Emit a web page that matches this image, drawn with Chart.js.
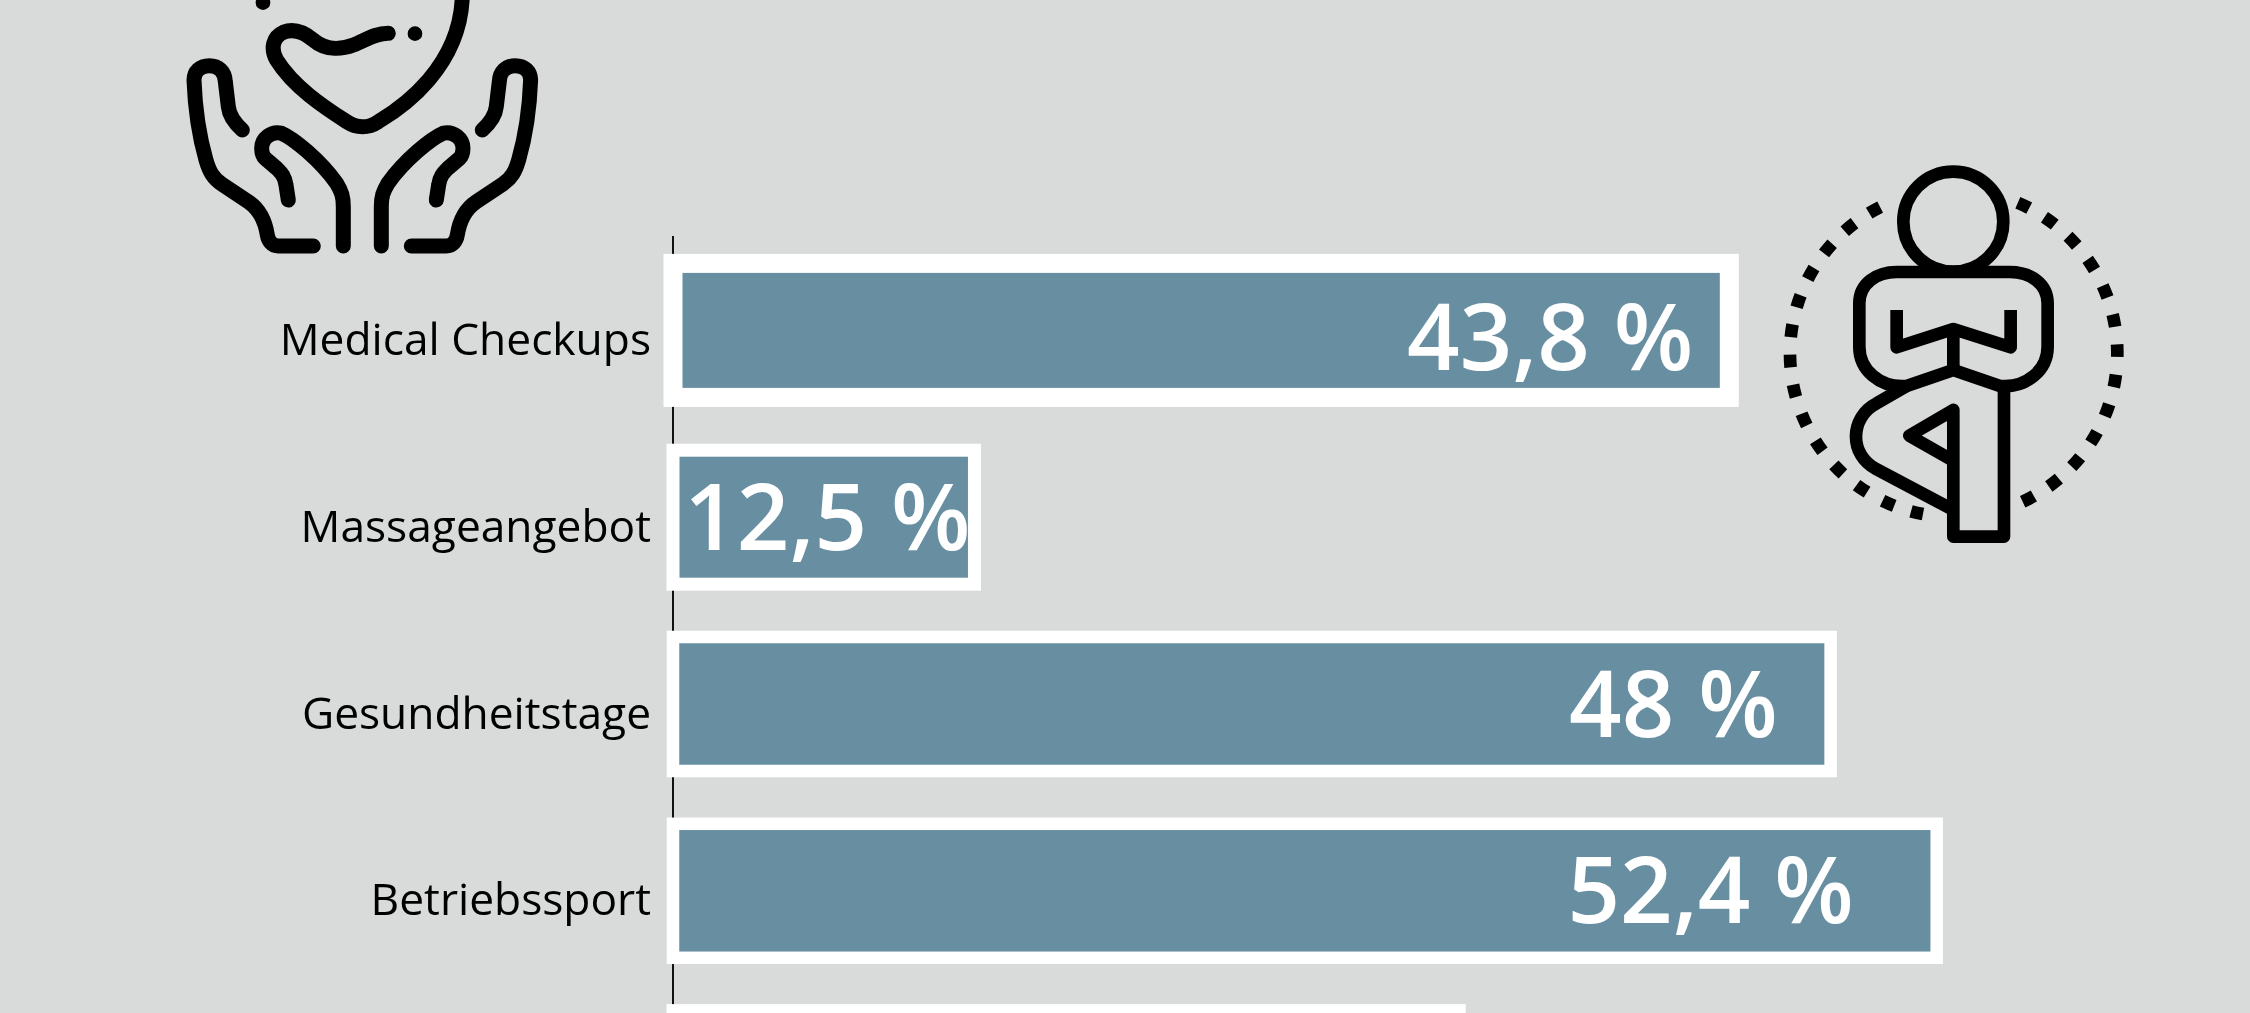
<!DOCTYPE html>
<html lang="de">
<head>
<meta charset="utf-8">
<title>Gesundheitsangebote</title>
<script src="https://cdn.jsdelivr.net/npm/chart.js@4/dist/chart.umd.min.js"></script>
<style>
    html, body { margin: 0; padding: 0; background: #d9dbda; overflow: hidden; }
    #page { position: relative; width: 2250px; height: 1013px; overflow: hidden; background: #d9dbda; }
    #chart { position: absolute; left: 0; top: 0; }
    #icons { position: absolute; left: 0; top: 0; pointer-events: none; }
</style>
</head>
<body>
<div id="page">
    <canvas id="chart" width="2250" height="1217"></canvas>
    <svg id="icons" width="2250" height="1013" viewBox="0 0 2250 1013" fill="none" stroke="#000">
        <!-- hands and heart, drawn in zoom coordinates (3x) -->
        <g transform="translate(150,0) scale(0.3333)" stroke-width="45" stroke-linecap="round" stroke-linejoin="round">
            <g id="hand">
                <path d="M490 738 H385 C365 738 355 722 352 705 C345 660 325 625 295 605 L215 552 C190 535 178 515 168 480 C145 400 135 320 132 240 C132 215 150 197 178 197 C205 197 225 215 226 245 L235 320 C238 350 255 370 277 390"/>
                <path d="M415 600 L408 555 C405 530 395 520 380 505 L345 475 C335 465 335 450 335 445 C335 415 365 392 395 400 C430 415 510 480 560 550 C575 575 580 590 580 620 V738"/>
            </g>
            <use href="#hand" transform="translate(1274,0) scale(-1,1)"/>
            <path d="M715 100 C670 100 640 125 610 135 C570 150 525 150 490 120 C460 95 430 85 400 97 C370 110 360 145 380 180 C430 260 520 320 590 365 C620 385 655 385 685 365 C760 320 930 200 937 -10"/>
            <circle cx="795" cy="101" r="22" fill="#000" stroke="none"/>
            <circle cx="339" cy="8" r="22" fill="#000" stroke="none"/>
        </g>
        <!-- sitting figure with dotted ring -->
        <g transform="translate(1750,140) scale(0.3333)" stroke-width="38" stroke-linejoin="round">
            <circle cx="610" cy="245" r="150"/>
            <path d="M610 690 L470 738 C390 745 328 690 328 620 V490 C328 430 380 396 440 396 H780 C840 396 893 430 893 490 V620 C893 690 830 745 750 738 L610 690"/>
            <path d="M440 510 V622 L610 567 L782 622 V510"/>
            <path d="M610 567 V690"/>
            <path d="M470 738 L380 790 C340 810 318 850 318 890 C318 930 340 965 375 985 L610 1110"/>
            <path d="M610 962 L478 887 L610 810 V1190 H762 V750"/>
            <path d="M803.6 188.4 A491 491 0 0 1 817 1085.8" stroke-dasharray="38 53"/>
            <path d="M390.5 201.3 A491 491 0 0 0 519 1122.3" stroke-dasharray="38 53"/>
        </g>
    </svg>
</div>
<script>
const categories = ['Medical Checkups', 'Massageangebot', 'Gesundheitstage', 'Betriebssport', ''];
const values = [43.8, 12.5, 48, 52.4, 32.6];
const valueLabels = ['43,8 %', '12,5 %', '48 %', '52,4 %', ''];

// per bar drawing details, the labels in the picture are not placed evenly
const borderWidths = [19, 13, 12.5, 12.5, 13];
const labelInsets = [36, 4, 53, 83, 0];
const labelDrops = [39.5, 32.5, 33, 32.5, 0];

const BAR_COLOR = '#688fa1';
const FONT = '"Open Sans", sans-serif';

// white frame is centred on the bar outline, Chart.js would draw it inside
const barFrames = {
    id: 'barFrames',
    afterDatasetsDraw(chart) {
        const ctx = chart.ctx;
        const bars = chart.getDatasetMeta(0).data;
        ctx.save();
        bars.forEach((bar, i) => {
            const top = bar.y - bar.height / 2;
            ctx.strokeStyle = '#fff';
            ctx.lineWidth = borderWidths[i];
            ctx.strokeRect(bar.base, top, bar.x - bar.base, bar.height);
            ctx.fillStyle = '#fff';
            ctx.font = '600 92px ' + FONT;
            ctx.textAlign = 'right';
            ctx.textBaseline = 'alphabetic';
            ctx.fillText(valueLabels[i], bar.x - labelInsets[i], bar.y + labelDrops[i]);
        });
        ctx.restore();
    }
};

new Chart(document.getElementById('chart'), {
    type: 'bar',
    data: {
        labels: categories,
        datasets: [{
            data: values,
            backgroundColor: BAR_COLOR,
            borderWidth: 0,
            barThickness: 134
        }]
    },
    plugins: [barFrames],
    options: {
        indexAxis: 'y',
        responsive: false,
        animation: false,
        devicePixelRatio: 1,
        layout: { padding: { top: 237, right: 130, bottom: 0, left: 0 } },
        plugins: {
            legend: { display: false },
            tooltip: { enabled: false }
        },
        scales: {
            x: {
                display: false,
                min: 0,
                max: 60
            },
            y: {
                afterFit(scale) { scale.width = 673; },
                grid: { display: false, drawTicks: false },
                border: { display: true, color: '#111', width: 2 },
                ticks: {
                    color: '#000',
                    padding: 22,
                    // blank first line pushes the text down, as in the picture
                    callback: (value, i) => ['', categories[i]],
                    font: { family: FONT, size: 44.3, lineHeight: '24px' }
                }
            }
        }
    }
});
</script>
</body>
</html>
